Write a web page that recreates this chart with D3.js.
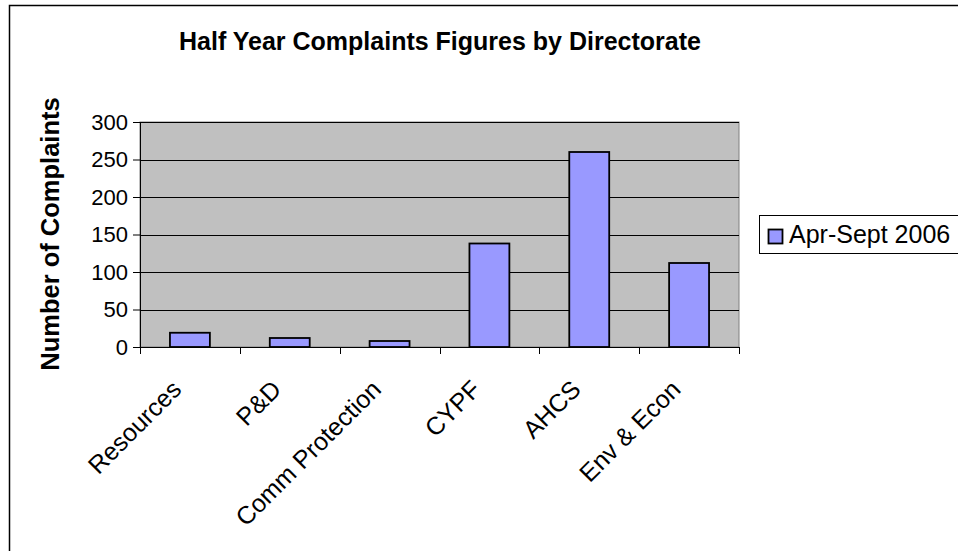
<!DOCTYPE html>
<html>
<head>
<meta charset="utf-8">
<script src="https://cdn.jsdelivr.net/npm/d3@7"></script>
<style>
  html, body { margin: 0; padding: 0; background: #fff; }
  svg { display: block; font-family: Arial, "Liberation Sans", sans-serif; }
</style>
</head>
<body>
<svg id="chart" width="958" height="551"></svg>
<script>
// Complaints received per directorate, April to September 2006
const categories = ["Resources", "P&D", "Comm Protection", "CYPF", "AHCS", "Env & Econ"];
const complaints = [19, 12, 8, 138, 260, 112];
const seriesName = "Apr-Sept 2006";
const yTicks = [0, 50, 100, 150, 200, 250, 300];

const svg = d3.select("#chart");

// Outer chart frame
svg.append("rect")
  .attr("x", 9.5).attr("y", 5.5)
  .attr("width", 980).attr("height", 580)
  .attr("fill", "#fff")
  .attr("stroke", "#000").attr("stroke-width", 1.5);

const plot = { left: 140, top: 122, right: 739, bottom: 347 };

const x = d3.scaleBand()
  .domain(categories)
  .range([plot.left, plot.right])
  .paddingInner(0.6)
  .paddingOuter(0.3);

// Band scale without padding for category boundary ticks
const xBand = d3.scaleBand().domain(categories).range([plot.left, plot.right]);

const y = d3.scaleLinear().domain([0, 300]).range([plot.bottom, plot.top]);

// Plot area background
svg.append("rect")
  .attr("x", plot.left).attr("y", plot.top)
  .attr("width", plot.right - plot.left).attr("height", plot.bottom - plot.top)
  .attr("fill", "#c0c0c0")
  .attr("stroke", "#808080").attr("stroke-width", 1);

// Horizontal gridlines
svg.append("g")
  .selectAll("line")
  .data(yTicks.filter(d => d > 0))
  .join("line")
  .attr("x1", plot.left).attr("x2", plot.right)
  .attr("y1", d => Math.round(y(d)) + 0.5).attr("y2", d => Math.round(y(d)) + 0.5)
  .attr("stroke", "#000").attr("stroke-width", 1);

// Bars
svg.append("g")
  .selectAll("rect")
  .data(categories)
  .join("rect")
  .attr("x", d => x(d))
  .attr("y", (d, i) => y(complaints[i]))
  .attr("width", x.bandwidth())
  .attr("height", (d, i) => y(0) - y(complaints[i]))
  .attr("fill", "#9999ff")
  .attr("stroke", "#000").attr("stroke-width", 1.8);

// Y axis
const yAxis = svg.append("g")
  .attr("transform", `translate(${plot.left},0)`)
  .call(d3.axisLeft(y).tickValues(yTicks).tickSize(7).tickPadding(5).tickSizeOuter(0));
yAxis.select(".domain").attr("stroke", "#000");
yAxis.selectAll(".tick line").attr("stroke", "#000");
yAxis.selectAll(".tick text")
  .attr("font-family", "Arial, 'Liberation Sans', sans-serif")
  .attr("font-size", 22).attr("fill", "#000");

// X axis with ticks at category boundaries
const xAxis = svg.append("g")
  .attr("transform", `translate(0,${plot.bottom})`);
xAxis.append("line")
  .attr("x1", plot.left).attr("x2", plot.right)
  .attr("y1", 0.5).attr("y2", 0.5)
  .attr("stroke", "#000");
const boundaries = categories.map(c => xBand(c)).concat([plot.right]);
xAxis.selectAll("line.tick")
  .data(boundaries)
  .join("line")
  .attr("class", "tick")
  .attr("x1", d => Math.round(d) + 0.5).attr("x2", d => Math.round(d) + 0.5)
  .attr("y1", 0).attr("y2", 7)
  .attr("stroke", "#000");

// Rotated category labels
svg.append("g")
  .selectAll("text")
  .data(categories)
  .join("text")
  .attr("transform", d => `translate(${xBand(d) + xBand.bandwidth() / 2 - 7},391) rotate(-45)`)
  .attr("text-anchor", "end")
  .attr("font-size", 25)
  .attr("fill", "#000")
  .text(d => d);

// Chart title
svg.append("text")
  .attr("x", 440).attr("y", 50)
  .attr("text-anchor", "middle")
  .attr("font-size", 25).attr("font-weight", "bold")
  .text("Half Year Complaints Figures by Directorate");

// Y axis title
svg.append("text")
  .attr("transform", `translate(59,234) rotate(-90)`)
  .attr("text-anchor", "middle")
  .attr("font-size", 25.5).attr("font-weight", "bold")
  .text("Number of Complaints");

// Legend
const legend = svg.append("g");
legend.append("rect")
  .attr("x", 759.5).attr("y", 215.5)
  .attr("width", 260).attr("height", 38)
  .attr("fill", "#fff")
  .attr("stroke", "#000").attr("stroke-width", 1);
legend.append("rect")
  .attr("x", 768.5).attr("y", 229.5)
  .attr("width", 14).attr("height", 14)
  .attr("fill", "#9999ff")
  .attr("stroke", "#000").attr("stroke-width", 1.8);
legend.append("text")
  .attr("x", 789).attr("y", 243)
  .attr("font-size", 25)
  .attr("fill", "#000")
  .text(seriesName);
</script>
</body>
</html>
